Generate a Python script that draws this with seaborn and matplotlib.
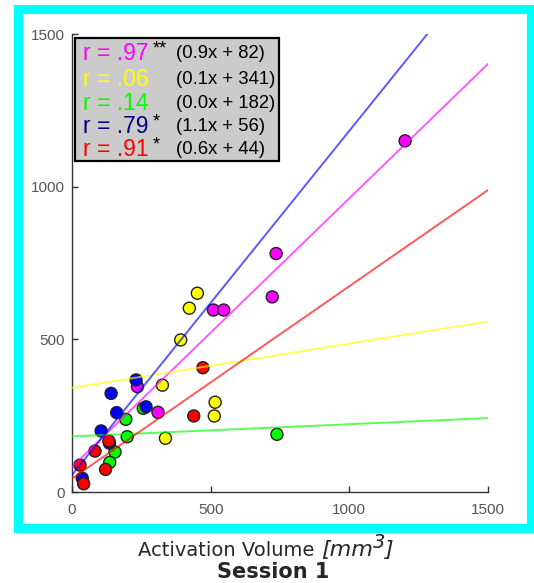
import numpy as np
import pandas as pd
import matplotlib
matplotlib.use("Agg")
import matplotlib.pyplot as plt
from matplotlib.patches import Rectangle
import seaborn as sns

# ---- data ----
groups = ["magenta", "yellow", "green", "blue", "red"]
colors = ["#FF00FF", "#FFFF00", "#00FF00", "#0000FF", "#FF0000"]
text_colors = ["#FF00FF", "#FFFF00", "#00FF00", "#000080", "#FF0000"]

magenta_x = [236, 310, 510, 547, 722, 736, 1201]
magenta_y = [345, 261, 596, 596, 639, 781, 1150]
yellow_x = [452, 423, 392, 326, 516, 513, 337]
yellow_y = [651, 602, 498, 350, 294, 249, 176]
green_x = [194, 199, 155, 136, 739, 257]
green_y = [238, 181, 131, 97, 189, 274]
blue_x = [231, 141, 267, 161, 105, 37, 135]
blue_y = [367, 323, 279, 260, 200, 45, 160]
red_x = [472, 439, 133, 83, 29, 121, 42]
red_y = [407, 249, 167, 134, 88, 74, 27]

# regression lines (slope, intercept) as drawn
slopes = [0.88, 0.145, 0.04, 1.127, 0.63]
intercepts = [82, 341, 182, 56, 44]

r_labels = ["r = .97", "r = .06", "r = .14", "r = .79", "r = .91"]
stars = ["**", "", "", "*", "*"]
equations = ["(0.9x + 82)", "(0.1x + 341)", "(0.0x + 182)", "(1.1x + 56)", "(0.6x + 44)"]

xticks = [0, 500, 1000, 1500]
yticks = [0, 500, 1000, 1500]

# ---- build tables ----
xs = [magenta_x, yellow_x, green_x, blue_x, red_x]
ys = [magenta_y, yellow_y, green_y, blue_y, red_y]
pts = pd.DataFrame({
    "x": np.concatenate(xs),
    "y": np.concatenate(ys),
    "g": np.concatenate([[g] * len(x) for g, x in zip(groups, xs)]),
})
line_x = np.array([0, 1500])
lines = pd.DataFrame({
    "x": np.tile(line_x, len(groups)),
    "y": np.concatenate([s * line_x + b for s, b in zip(slopes, intercepts)]),
    "g": np.repeat(groups, len(line_x)),
})
pal = dict(zip(groups, colors))

sns.set_style("ticks")
plt.rcParams["font.family"] = ["Liberation Sans", "DejaVu Sans"]

W, H = 534, 583
fig = plt.figure(figsize=(W / 100, H / 100), dpi=100)
ax = fig.add_axes([72 / W, 1 - 492 / H, 416 / W, 458 / H])

sns.scatterplot(data=pts, x="x", y="y", hue="g", palette=pal, s=75,
                edgecolor="#222222", linewidth=1.0, legend=False, ax=ax, zorder=2)
sns.lineplot(data=lines, x="x", y="y", hue="g", palette=pal, alpha=0.65,
             linewidth=1.4, legend=False, ax=ax, zorder=3)

ax.set_xlim(0, 1500)
ax.set_ylim(0, 1500)
ax.set_xticks(xticks)
ax.set_yticks(yticks)
ax.tick_params(direction="in", length=4, width=1, colors="#333333",
               labelcolor="#555555", labelsize=11, pad=5)
ax.tick_params(axis="x", pad=8)
for s in ["top", "right"]:
    ax.spines[s].set_visible(False)
for s in ["left", "bottom"]:
    ax.spines[s].set_color("#333333")
    ax.spines[s].set_linewidth(1.0)
ax.set_xlabel("")
ax.set_ylabel("")

# legend-like box
box = Rectangle((0.007, 0.7227), 0.4905, 0.2683, transform=ax.transAxes,
                facecolor="#cbcbcb", edgecolor="black", linewidth=1.6, zorder=5)
ax.add_patch(box)
row_y = [0.9585, 0.9017, 0.849, 0.7991, 0.7489]
for yy, lab, st, eq, c in zip(row_y, r_labels, stars, equations, text_colors):
    ax.text(0.0264, yy, lab, color=c, fontsize=16.5, va="center", ha="left",
            transform=ax.transAxes, zorder=6)
    if st:
        ax.text(0.193, yy + 0.008, st, color="black", fontsize=13, va="center",
                ha="left", transform=ax.transAxes, zorder=6)
    ax.text(0.25, yy, eq, color="black", fontsize=13.3, va="center", ha="left",
            transform=ax.transAxes, zorder=6)

# cyan frame
frame = Rectangle((17.5 / W, 1 - 527.5 / H), (531 - 17.5) / W, (527.5 - 8.5) / H,
                  transform=fig.transFigure, fill=False, edgecolor="#00FFFF",
                  linewidth=6.6, zorder=0)
fig.patches.append(frame)

# axis labels below the frame
t1 = fig.text(138 / W, 1 - 560 / H, "Activation Volume ", ha="left", va="bottom",
              fontsize=14, family="DejaVu Sans")
a2 = ax.annotate("[mm", xy=(1, 0), xycoords=t1, ha="left", va="bottom",
                 fontsize=16, family="DejaVu Sans", style="italic",
                 annotation_clip=False)
a3 = ax.annotate("3", xy=(1, 0.4), xycoords=a2, ha="left", va="bottom",
                 fontsize=14, family="DejaVu Sans", style="italic",
                 annotation_clip=False)
a4 = ax.annotate("]", xy=(1, 0), xycoords=(a3, a2), ha="left", va="bottom",
                 fontsize=16, family="DejaVu Sans", style="italic",
                 annotation_clip=False)
fig.text(273 / W, 1 - 572 / H, "Session 1", ha="center", va="center",
         fontsize=15, fontweight="bold", family="DejaVu Sans")

fig.savefig("out.png", dpi=100)
